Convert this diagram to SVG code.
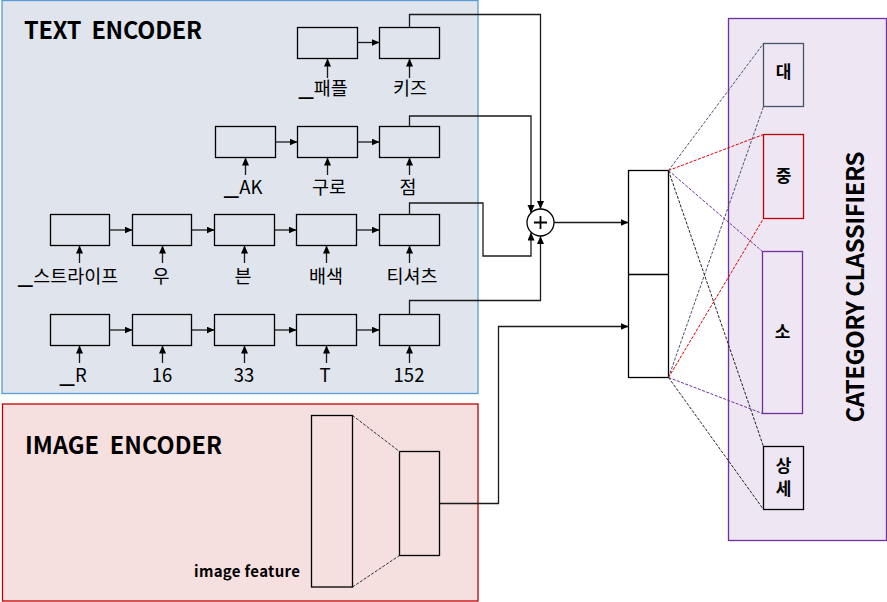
<svg xmlns="http://www.w3.org/2000/svg" width="887" height="602" viewBox="0 0 887 602">
<style>
text{font-family:"Noto Sans CJK KR","Noto Sans",sans-serif;fill:#000}
.title{font-size:23.5px;font-weight:bold;white-space:pre}
.lbl{font-size:18.5px;text-anchor:middle}
.us{font-size:28px}
.cls{font-size:17px;font-weight:bold;text-anchor:middle}
.cell{fill:none;stroke:#000;stroke-width:1.3}
.conn{fill:none;stroke:#1a1a1a;stroke-width:1.3}
.dash{fill:none;stroke-width:1;stroke-dasharray:3 1.5}
</style>
<defs>
<marker id="ah" markerUnits="userSpaceOnUse" markerWidth="9" markerHeight="8" refX="8" refY="3.5" orient="auto">
<path d="M0,0 L8,3.5 L0,7 z" fill="#000"/>
</marker>
</defs>
<rect width="887" height="602" fill="#fff"/>

<g id="text-encoder">
<rect x="2" y="0.5" width="476" height="393" fill="#dfe4ed" stroke="#5b9bd5" stroke-width="1.3"/>
<text class="title" x="24" y="39" xml:space="preserve" textLength="178" lengthAdjust="spacing">TEXT  ENCODER</text>
</g>

<g id="image-encoder">
<rect x="2.5" y="404" width="475.5" height="197" fill="#f6dfdf" stroke="#c00000" stroke-width="1.3"/>
<text class="title" x="25" y="454" xml:space="preserve" textLength="197" lengthAdjust="spacing">IMAGE  ENCODER</text>
<rect x="311.5" y="415.5" width="41" height="171.5" class="cell"/>
<rect x="399.5" y="451.5" width="40" height="104" class="cell"/>
<path d="M352.5,415.5 L399.5,451.5 M352.5,587 L399.5,555.5" class="dash" stroke="#333"/>
<text x="194" y="577" style="font-size:15px;font-weight:bold" textLength="106" lengthAdjust="spacing">image feature</text>
</g>

<g id="tokens-row1">
<rect x="297.5" y="27.5" width="60" height="31" class="cell"/>
<rect x="379.5" y="27.5" width="60" height="31" class="cell"/>
<text class="lbl" x="323" y="95"><tspan class="us">_</tspan>패플</text>
<text class="lbl" x="410" y="95">키즈</text>
</g>
<g id="tokens-row2">
<rect x="215.5" y="126.5" width="60" height="31" class="cell"/>
<rect x="297.5" y="126.5" width="60" height="31" class="cell"/>
<rect x="379.5" y="126.5" width="60" height="31" class="cell"/>
<text class="lbl" x="243" y="194"><tspan class="us">_</tspan>AK</text>
<text class="lbl" x="329" y="194">구로</text>
<text class="lbl" x="408" y="194">점</text>
</g>
<g id="tokens-row3">
<rect x="50.5" y="214.5" width="59" height="31" class="cell"/>
<rect x="132.5" y="214.5" width="59" height="31" class="cell"/>
<rect x="214.5" y="214.5" width="60" height="31" class="cell"/>
<rect x="296.5" y="214.5" width="60" height="31" class="cell"/>
<rect x="379.5" y="214.5" width="60" height="31" class="cell"/>
<text class="lbl" x="68" y="283"><tspan class="us">_</tspan>스트라이프</text>
<text class="lbl" x="161" y="283">우</text>
<text class="lbl" x="243" y="283">븐</text>
<text class="lbl" x="326" y="283">배색</text>
<text class="lbl" x="412" y="283">티셔츠</text>
</g>
<g id="tokens-row4">
<rect x="50.5" y="314.5" width="59" height="31" class="cell"/>
<rect x="132.5" y="314.5" width="59" height="31" class="cell"/>
<rect x="214.5" y="314.5" width="60" height="31" class="cell"/>
<rect x="296.5" y="314.5" width="60" height="31" class="cell"/>
<rect x="379.5" y="314.5" width="60" height="31" class="cell"/>
<text class="lbl" x="73" y="382"><tspan class="us">_</tspan>R</text>
<text class="lbl" x="162" y="382">16</text>
<text class="lbl" x="244" y="382">33</text>
<text class="lbl" x="325" y="382">T</text>
<text class="lbl" x="409" y="382">152</text>
</g>

<g id="sum-node">
<circle cx="540.5" cy="222.5" r="13.5" fill="#fff" stroke="#000" stroke-width="1.3"/>
<path d="M534,222.5 H547 M540.5,216 V229" stroke="#000" stroke-width="1.8"/>
</g>

<g id="concat">
<rect x="628.5" y="170.5" width="40" height="207" fill="#fff" stroke="#000" stroke-width="1.3"/>
<line x1="628.5" y1="274.5" x2="668.5" y2="274.5" stroke="#000" stroke-width="1.3"/>
</g>

<g id="category-classifiers">
<rect x="728.5" y="18.5" width="158" height="522" fill="#eee6f3" stroke="#7030a0" stroke-width="1.3"/>
<text x="864" y="287" style="font-size:24px;font-weight:bold;text-anchor:middle" transform="rotate(-90 864 287)" textLength="271" lengthAdjust="spacing">CATEGORY CLASSIFIERS</text>
</g>
<g id="cls-dae">
<rect x="763.5" y="43.5" width="40" height="63" fill="none" stroke="#44546a" stroke-width="1.3"/>
<text class="cls" x="783.5" y="78">대</text>
</g>
<g id="cls-jung">
<rect x="763.5" y="134.5" width="40" height="84" fill="none" stroke="#c00000" stroke-width="1.3"/>
<text class="cls" x="783.5" y="182">중</text>
</g>
<g id="cls-so">
<rect x="762.5" y="251.5" width="40" height="162" fill="none" stroke="#7030a0" stroke-width="1.3"/>
<text class="cls" x="782.5" y="338">소</text>
</g>
<g id="cls-sangse">
<rect x="763.5" y="446.5" width="40" height="63" fill="none" stroke="#000" stroke-width="1.3"/>
<text class="cls" x="783.5" y="472">상</text>
<text class="cls" x="783.5" y="495">세</text>
</g>

<g id="connectors">
<path d="M357.5,42.5 H379.5" class="conn" marker-end="url(#ah)"/>
<path d="M327.5,78 V58.5" class="conn" marker-end="url(#ah)"/>
<path d="M409.5,78 V58.5" class="conn" marker-end="url(#ah)"/>
<path d="M275.5,142 H297.5" class="conn" marker-end="url(#ah)"/>
<path d="M357.5,142 H379.5" class="conn" marker-end="url(#ah)"/>
<path d="M245.5,175 V157.5" class="conn" marker-end="url(#ah)"/>
<path d="M327.5,175 V157.5" class="conn" marker-end="url(#ah)"/>
<path d="M409.5,175 V157.5" class="conn" marker-end="url(#ah)"/>
<path d="M109.5,230 H132.5" class="conn" marker-end="url(#ah)"/>
<path d="M191.5,230 H214.5" class="conn" marker-end="url(#ah)"/>
<path d="M274.5,230 H296.5" class="conn" marker-end="url(#ah)"/>
<path d="M356.5,230 H379.5" class="conn" marker-end="url(#ah)"/>
<path d="M79.5,263 V245.5" class="conn" marker-end="url(#ah)"/>
<path d="M162.5,263 V245.5" class="conn" marker-end="url(#ah)"/>
<path d="M244.5,263 V245.5" class="conn" marker-end="url(#ah)"/>
<path d="M326.5,263 V245.5" class="conn" marker-end="url(#ah)"/>
<path d="M409.5,263 V245.5" class="conn" marker-end="url(#ah)"/>
<path d="M109.5,330 H132.5" class="conn" marker-end="url(#ah)"/>
<path d="M191.5,330 H214.5" class="conn" marker-end="url(#ah)"/>
<path d="M274.5,330 H296.5" class="conn" marker-end="url(#ah)"/>
<path d="M356.5,330 H379.5" class="conn" marker-end="url(#ah)"/>
<path d="M79.5,363 V345.5" class="conn" marker-end="url(#ah)"/>
<path d="M162.5,363 V345.5" class="conn" marker-end="url(#ah)"/>
<path d="M244.5,363 V345.5" class="conn" marker-end="url(#ah)"/>
<path d="M326.5,363 V345.5" class="conn" marker-end="url(#ah)"/>
<path d="M409.5,363 V345.5" class="conn" marker-end="url(#ah)"/>
<path d="M409.5,27.5 V14.5 H540.5 V209" class="conn" marker-end="url(#ah)"/>
<path d="M409.5,126.5 V116 H531 V213" class="conn" marker-end="url(#ah)"/>
<path d="M409.5,214.5 V203 H483 V256 H531 V232.5" class="conn" marker-end="url(#ah)"/>
<path d="M409.5,314.5 V300.5 H540.5 V236" class="conn" marker-end="url(#ah)"/>
<path d="M554,222.5 H628.5" class="conn" marker-end="url(#ah)"/>
<path d="M439.5,503.5 H498.5 V326.5 H628.5" class="conn" stroke="#444" marker-end="url(#ah)"/>
<path d="M668.5,170.5 L763.5,43.5 M668.5,377.5 L763.5,106.5" class="dash" stroke="#44546a"/>
<path d="M668.5,170.5 L763.5,134.5 M668.5,377.5 L763.5,218.5" class="dash" stroke="#e00000"/>
<path d="M668.5,170.5 L762.5,251.5 M668.5,377.5 L762.5,413.5" class="dash" stroke="#7030a0"/>
<path d="M668.5,170.5 L763.5,446.5 M668.5,377.5 L763.5,509.5" class="dash" stroke="#222"/>
</g>
</svg>
